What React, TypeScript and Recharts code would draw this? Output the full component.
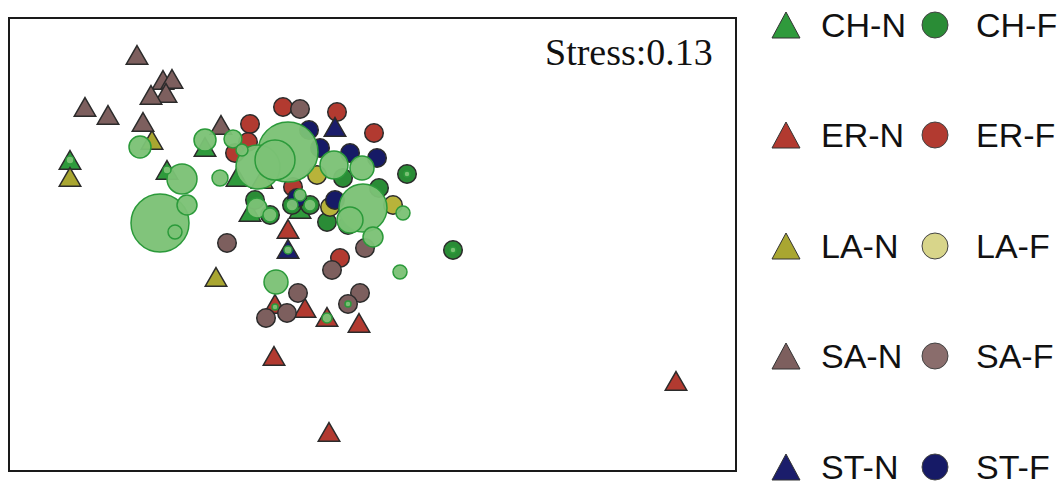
import React from "react";
import {
  ReferenceArea,
  Scatter,
  ScatterChart,
  XAxis,
  YAxis,
  ZAxis,
} from "recharts";

// NMDS ordination, coordinates (plot units)
const chN = [[70, 163], [167, 173], [205, 150], [237, 180], [250, 215], [300, 212]];
const chF = [[407, 174], [453, 250], [327, 222], [270, 215], [379, 188], [343, 178], [292, 205], [310, 205], [348, 225], [255, 200]];
const erN = [[288, 232], [275, 307], [305, 311], [327, 320], [359, 326], [274, 359], [329, 435], [676, 384]];
const erF = [[283, 107], [337, 112], [250, 124], [374, 133], [248, 142], [235, 153], [293, 187], [340, 258]];
const laN = [[70, 180], [152, 143], [216, 280], [262, 182]];
const laF = [[317, 175], [393, 205], [330, 207]];
const saN = [[137, 58], [163, 83], [172, 82], [166, 96], [151, 98], [85, 110], [108, 118], [143, 125], [221, 128]];
const saF = [[227, 243], [300, 109], [365, 248], [332, 270], [298, 293], [360, 293], [348, 304], [266, 318], [287, 313]];
const stN = [[335, 130], [288, 252]];
const stF = [[309, 130], [320, 148], [350, 153], [377, 158], [297, 198], [335, 200]];

// bubble overlay: x, y, abundance
const bubbles = [
  [160, 223, 841], [182, 179, 225], [187, 205, 100], [175, 232, 49], [140, 147, 121],
  [205, 140, 121], [233, 139, 81], [220, 178, 64], [257, 208, 100], [288, 152, 900],
  [258, 167, 484], [275, 160, 400], [334, 165, 196], [362, 168, 144], [363, 208, 576],
  [350, 220, 169], [373, 237, 100], [276, 282, 144], [400, 272, 49], [403, 213, 49],
  [270, 215, 49], [292, 205, 36], [310, 205, 36], [300, 195, 36], [242, 150, 36],
  [70, 160, 16], [327, 318, 25], [453, 250, 9], [407, 174, 9], [288, 250, 16],
  [348, 304, 9], [275, 307, 9], [167, 170, 16],
];

const toPts = (arr: number[][]) => arr.map(([x, y]) => ({ x, y, s: 1 }));
const bubblePts = bubbles.map(([x, y, z]) => ({ x, y, z }));

const series = [
  { name: "CH-N", data: chN, shape: "triangle", color: "#2f9a3c" },
  { name: "CH-F", data: chF, shape: "circle", color: "#2a8c36" },
  { name: "ER-N", data: erN, shape: "triangle", color: "#b23a30" },
  { name: "ER-F", data: erF, shape: "circle", color: "#b23a30" },
  { name: "LA-N", data: laN, shape: "triangle", color: "#a9a631" },
  { name: "LA-F", data: laF, shape: "circle", color: "#b8b33a" },
  { name: "SA-N", data: saN, shape: "triangle", color: "#7d5f5e" },
  { name: "SA-F", data: saF, shape: "circle", color: "#7d5f5e" },
  { name: "ST-N", data: stN, shape: "triangle", color: "#1b1d6b" },
  { name: "ST-F", data: stF, shape: "circle", color: "#161a66" },
];

const legendRows = [
  { n: "CH-N", f: "CH-F", tri: "#2f9a3c", dot: "#2a8c36", cy: 25 },
  { n: "ER-N", f: "ER-F", tri: "#b23a30", dot: "#b23a30", cy: 135 },
  { n: "LA-N", f: "LA-F", tri: "#a9a631", dot: "#d8d58a", cy: 246 },
  { n: "SA-N", f: "SA-F", tri: "#7d5f5e", dot: "#8a6d6c", cy: 356 },
  { n: "ST-N", f: "ST-F", tri: "#1b1d6b", dot: "#161a66", cy: 467 },
];

export default function App() {
  return (
    <div style={{ position: "absolute", left: 0, top: 0, width: 1064, height: 487, background: "#fff" }}>
      <ScatterChart
        width={1064}
        height={487}
        margin={{ top: 18, right: 328, bottom: 16, left: 9 }}
      >
        <XAxis type="number" dataKey="x" domain={[9, 736]} hide allowDataOverflow />
        <YAxis type="number" dataKey="y" domain={[18, 471]} reversed hide allowDataOverflow />
        <ZAxis zAxisId="tri" type="number" dataKey="s" domain={[0, 1]} range={[0, 200]} />
        <ZAxis zAxisId="dot" type="number" dataKey="s" domain={[0, 1]} range={[0, 270]} />
        <ZAxis zAxisId="bub" type="number" dataKey="z" domain={[0, 900]} range={[0, 2827]} />
        <ReferenceArea x1={9} x2={736} y1={18} y2={471} fill="none" stroke="#1a1a1a" strokeWidth={2} />
        {series.map((s) => (
          <Scatter
            key={s.name}
            name={s.name}
            data={toPts(s.data)}
            shape={s.shape as any}
            zAxisId={s.shape === "triangle" ? "tri" : "dot"}
            fill={s.color}
            stroke="#2b2b2b"
            strokeWidth={1.5}
            isAnimationActive={false}
          />
        ))}
        <Scatter
          name="abundance"
          data={bubblePts}
          shape="circle"
          zAxisId="bub"
          fill="#7cc276"
          fillOpacity={0.96}
          stroke="#2b9a3a"
          strokeWidth={1.5}
          isAnimationActive={false}
        />
      </ScatterChart>
      <svg
        width={1064}
        height={487}
        style={{ position: "absolute", left: 0, top: 0, pointerEvents: "none" }}
      >
        <text x={545} y={65} fontFamily="'Liberation Serif', 'Times New Roman', serif" fontSize={38} fill="#111">
          Stress:0.13
        </text>
        {legendRows.map((r) => (
          <g key={r.n}>
            <polygon
              points={`${772},${r.cy + 13} ${800},${r.cy + 13} ${786},${r.cy - 13}`}
              fill={r.tri}
              stroke="#333"
              strokeWidth={1}
            />
            <text x={821} y={r.cy + 12} fontFamily="'Liberation Sans', Arial, sans-serif" fontSize={34} fill="#111">
              {r.n}
            </text>
            <circle cx={935} cy={r.cy} r={13} fill={r.dot} stroke="#444" strokeWidth={1} />
            <text x={976} y={r.cy + 12} fontFamily="'Liberation Sans', Arial, sans-serif" fontSize={34} fill="#111">
              {r.f}
            </text>
          </g>
        ))}
      </svg>
    </div>
  );
}
